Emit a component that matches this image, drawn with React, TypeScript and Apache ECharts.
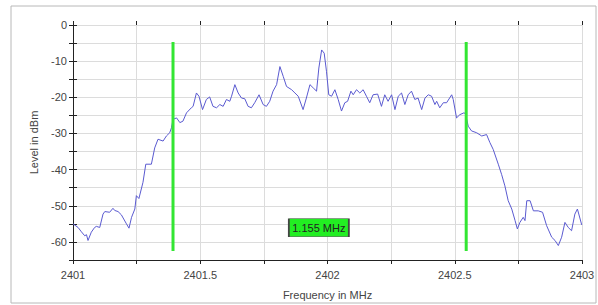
import React, { useEffect, useRef } from "react";
import * as echarts from "echarts";

const freqs = [
  2401.0, 2401.02, 2401.033, 2401.046, 2401.053, 2401.059, 2401.072, 2401.085, 2401.092, 2401.105,
  2401.118, 2401.125, 2401.144, 2401.157, 2401.164, 2401.177, 2401.19, 2401.21, 2401.22, 2401.23,
  2401.243, 2401.249, 2401.259, 2401.275, 2401.286, 2401.308, 2401.321, 2401.334, 2401.354, 2401.367,
  2401.38, 2401.387, 2401.393, 2401.407, 2401.42, 2401.432, 2401.446, 2401.465, 2401.472, 2401.485,
  2401.495, 2401.509, 2401.524, 2401.537, 2401.55, 2401.564, 2401.577, 2401.59, 2401.603, 2401.616,
  2401.623, 2401.636, 2401.649, 2401.662, 2401.675, 2401.688, 2401.701, 2401.714, 2401.731, 2401.747,
  2401.76, 2401.773, 2401.786, 2401.8, 2401.813, 2401.826, 2401.839, 2401.859, 2401.872, 2401.885,
  2401.904, 2401.917, 2401.931, 2401.944, 2401.957, 2401.966, 2401.977, 2401.987, 2401.996, 2402.005,
  2402.016, 2402.029, 2402.042, 2402.055, 2402.068, 2402.079, 2402.092, 2402.101, 2402.114, 2402.127,
  2402.14, 2402.153, 2402.166, 2402.179, 2402.197, 2402.212, 2402.225, 2402.238, 2402.252, 2402.265,
  2402.278, 2402.291, 2402.304, 2402.317, 2402.33, 2402.343, 2402.356, 2402.37, 2402.383, 2402.396,
  2402.409, 2402.422, 2402.429, 2402.441, 2402.455, 2402.468, 2402.488, 2402.494, 2402.507, 2402.52,
  2402.536, 2402.542, 2402.553, 2402.566, 2402.586, 2402.606, 2402.625, 2402.638, 2402.651, 2402.671,
  2402.684, 2402.697, 2402.71, 2402.724, 2402.737, 2402.746, 2402.756, 2402.769, 2402.776, 2402.783,
  2402.796, 2402.809, 2402.828, 2402.845, 2402.861, 2402.881, 2402.894, 2402.907, 2402.92, 2402.933,
  2402.946, 2402.959, 2402.972, 2402.982, 2402.999,
];

const levels = [
  -55.0, -56.0, -57.2, -58.3, -58.0, -59.6, -57.3, -56.0, -55.7, -56.0,
  -52.3, -51.6, -51.8, -50.7, -51.3, -51.6, -52.5, -55.0, -56.2, -53.2,
  -50.9, -47.2, -48.0, -43.5, -38.5, -38.5, -34.0, -31.6, -32.1, -30.7,
  -29.8, -28.4, -26.1, -25.7, -27.0, -26.6, -24.3, -22.9, -22.5, -18.8,
  -19.7, -23.4, -20.6, -19.9, -22.5, -22.9, -22.0, -22.5, -20.6, -21.1,
  -19.7, -16.5, -18.8, -20.2, -20.4, -22.5, -22.9, -21.5, -19.3, -22.0,
  -22.5, -21.1, -18.3, -16.5, -11.5, -14.2, -17.0, -17.9, -18.8, -19.7,
  -23.4, -20.2, -16.5, -17.4, -18.3, -11.9, -6.9, -7.8, -12.8, -19.3,
  -19.7, -17.9, -20.6, -23.8, -21.5, -21.1, -18.3, -19.3, -17.9, -18.8,
  -17.9, -19.7, -21.5, -19.3, -19.1, -22.5, -19.3, -21.1, -19.3, -23.4,
  -19.7, -18.8, -22.0, -19.3, -18.3, -20.6, -20.2, -23.4, -20.2, -19.3,
  -19.7, -22.0, -21.1, -22.9, -21.5, -21.5, -19.3, -20.6, -25.7, -24.8,
  -24.3, -24.5, -28.0, -29.3, -29.8, -30.7, -30.3, -32.5, -34.4, -38.5,
  -41.3, -44.5, -48.6, -50.9, -54.1, -56.4, -54.6, -53.2, -54.1, -48.6,
  -48.6, -51.4, -51.4, -51.8, -55.5, -58.7, -59.6, -61.0, -58.7, -54.6,
  -56.0, -56.9, -52.3, -50.9, -55.3,
];

const cursorFreqs = [2401.393, 2402.545];
const cursorTop = -4.7;
const cursorBottom = -62.5;
const spanLabel = "1.155 MHz";
const spanLabelPos = [2401.966, -56.1];

const xTickLabels = ["2401", "2401.5", "2402", "2402.5", "2403"];
const yTickLabels = ["0", "-10", "-20", "-30", "-40", "-50", "-60"];

const FONT = "'Liberation Sans', Arial, sans-serif";

export default function App() {
  const ref = useRef<HTMLDivElement>(null);
  useEffect(() => {
    const chart = echarts.init(ref.current!, null, { renderer: "svg" });
    const trace = freqs.map((f, i) => [f, levels[i]]);
    const cursorSeries = cursorFreqs.map((f) => ({
      type: "line",
      data: [
        [f, cursorTop],
        [f, cursorBottom],
      ],
      symbol: "none",
      lineStyle: { color: "#33e633", width: 3 },
      z: 5,
    }));
    const axisLabelBase = { fontFamily: FONT, fontSize: 11, color: "#444" };
    chart.setOption({
      animation: false,
      grid: { left: 73, right: 16, top: 25, bottom: 43 },
      graphic: [
        {
          type: "rect",
          shape: { x: 11, y: 6, width: 585, height: 297 },
          style: { fill: "none", stroke: "#b8b8b8", lineWidth: 1 },
          silent: true,
        },
      ],
      xAxis: [
        {
          type: "value",
          min: 2401,
          max: 2403,
          interval: 0.25,
          name: "Frequency in MHz",
          nameLocation: "middle",
          nameGap: 29,
          nameTextStyle: { fontFamily: FONT, fontSize: 11, color: "#444" },
          axisLine: { show: true, onZero: false, lineStyle: { color: "#222", width: 1 } },
          axisTick: { show: true, inside: false, length: 4, lineStyle: { color: "#222" } },
          axisLabel: {
            ...axisLabelBase,
            margin: 9,
            formatter: (v: number) => {
              const s = String(Math.round(v * 100) / 100);
              return xTickLabels.includes(s) ? s : "";
            },
          },
          splitLine: { show: true, lineStyle: { color: "#dcdcdc", width: 1 } },
        },
        {
          type: "value",
          min: 2401,
          max: 2403,
          interval: 0.25,
          position: "bottom",
          axisLine: { show: false },
          axisTick: { show: true, inside: true, length: 4, lineStyle: { color: "#222" } },
          axisLabel: { show: false },
          splitLine: { show: false },
        },
      ],
      yAxis: [
        {
          type: "value",
          min: -65,
          max: 0,
          interval: 5,
          name: "Level in dBm",
          nameLocation: "middle",
          nameGap: 34,
          nameRotate: 90,
          nameTextStyle: { fontFamily: FONT, fontSize: 11, color: "#444" },
          axisLine: { show: true, onZero: false, lineStyle: { color: "#222", width: 1 } },
          axisTick: { show: true, inside: false, length: 4, lineStyle: { color: "#222" } },
          axisLabel: {
            ...axisLabelBase,
            margin: 6,
            formatter: (v: number) => {
              const s = String(Math.round(v));
              return yTickLabels.includes(s) ? s : "";
            },
          },
          splitLine: { show: true, lineStyle: { color: "#dcdcdc", width: 1 } },
        },
        {
          type: "value",
          min: -65,
          max: 0,
          interval: 5,
          position: "left",
          axisLine: { show: false },
          axisTick: { show: true, inside: true, length: 4, lineStyle: { color: "#222" } },
          axisLabel: { show: false },
          splitLine: { show: false },
        },
      ],
      series: [
        {
          type: "line",
          data: trace,
          symbol: "none",
          lineStyle: { color: "#5a5ad0", width: 1 },
          z: 4,
          markPoint: {
            silent: true,
            data: [
              {
                coord: spanLabelPos,
                symbol: "rect",
                symbolSize: [60, 18],
                itemStyle: { color: "#22ee22", borderColor: "#444", borderWidth: 1 },
                label: {
                  show: true,
                  formatter: spanLabel,
                  fontFamily: FONT,
                  fontSize: 11,
                  color: "#222",
                },
              },
            ],
          },
        },
        ...cursorSeries,
      ],
    });
    return () => chart.dispose();
  }, []);
  return (
    <div
      ref={ref}
      style={{ position: "fixed", left: 0, top: 0, width: 598, height: 305, background: "#fff" }}
    />
  );
}
